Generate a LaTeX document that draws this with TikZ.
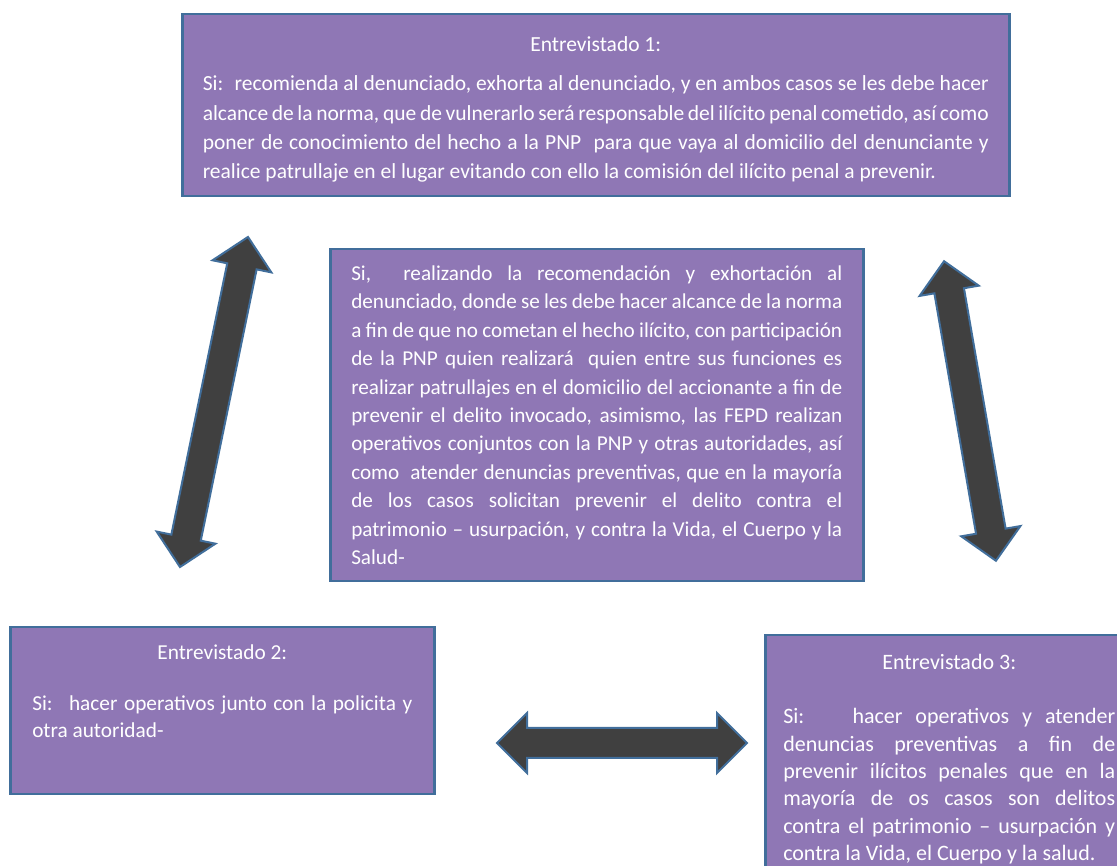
\documentclass[tikz,border=0pt]{standalone}
\usepackage{fontspec}
\setmainfont{Carlito}
\usepackage{tikz}
\usetikzlibrary{shapes.arrows}
\setlength{\parindent}{0pt}
\definecolor{boxfill}{RGB}{143,119,181}
\definecolor{boxline}{RGB}{65,110,155}
\definecolor{arrowfill}{RGB}{64,64,64}

\begin{document}
\begin{tikzpicture}[x=1pt, y=1pt]
        \tikzset{
            entbox/.style={draw=boxline, fill=boxfill, line width=2.5pt, rectangle, anchor=north west, align=justify, text=white, inner sep=0pt},
            bigarrow/.style={draw=boxline, fill=arrowfill, line width=2pt, double arrow, double arrow head extend=15pt, inner sep=14pt}
        }
        \useasboundingbox (0,0) rectangle (1117,866);
        \clip (0,0) rectangle (1117,866);

        \node [entbox, minimum width=827pt, minimum height=182pt, text width=786pt, font=\fontsize{21.5}{29.3}\selectfont] (ent1) at (181,853)
            {{\centering\rule{0pt}{23pt}Entrevistado 1:\par}\vspace{10.5pt}Si:~ recomienda al denunciado, exhorta al denunciado, y en ambos casos se les debe hacer\linebreak alcance de la norma, que de vulnerarlo será responsable del ilícito penal cometido, así como\linebreak poner de conocimiento del hecho a la PNP~ para que vaya al domicilio del denunciante y\linebreak realice patrullaje en el lugar evitando con ello la comisión del ilícito penal a prevenir.};
        \node [entbox, minimum width=533pt, minimum height=332pt, text width=491pt, font=\fontsize{21.2}{28.4}\selectfont] (common) at (329,618)
            {Si,~ realizando la recomendación y exhortación al\linebreak denunciado, donde se les debe hacer alcance de la norma\linebreak a fin de que no cometan el hecho ilícito, con participación\linebreak de la PNP quien realizará~ quien entre sus funciones es\linebreak realizar patrullajes en el domicilio del accionante a fin de\linebreak prevenir el delito invocado, asimismo, las FEPD realizan\linebreak operativos conjuntos con la PNP y otras autoridades, así\linebreak como~ atender denuncias preventivas, que en la mayoría\linebreak de los casos solicitan prevenir el delito contra el\linebreak patrimonio -- usurpación, y contra la Vida, el Cuerpo y la\linebreak Salud-};
        \node [entbox, minimum width=424pt, minimum height=167pt, text width=380pt, font=\fontsize{21.3}{27}\selectfont] (ent2) at (9,240)
            {{\centering Entrevistado 2:\par}\vspace{24pt}Si:~ hacer operativos junto con la policita y\linebreak otra autoridad-\rule[-40pt]{0pt}{0pt}};
        \node [entbox, minimum width=368pt, inner ysep=19pt, text width=332pt, font=\fontsize{22}{27.3}\selectfont] (ent3) at (764,232)
            {{\centering Entrevistado 3:\par}\vspace{27pt}Si:~~ hacer operativos y atender\linebreak denuncias preventivas a fin de\linebreak prevenir ilícitos penales que en la\linebreak mayoría de os casos son delitos\linebreak contra el patrimonio -- usurpación y\linebreak contra la Vida, el Cuerpo y la salud.};

        \node [bigarrow, minimum height=337pt, rotate=78.36] (leftarrow) at (214,464) {};
        \node [bigarrow, minimum height=304pt, rotate=99.83] (rightarrow) at (970,455) {};
        \node [bigarrow, minimum height=250pt] (bottomarrow) at (622,123) {};
    \end{tikzpicture}
\end{document}
